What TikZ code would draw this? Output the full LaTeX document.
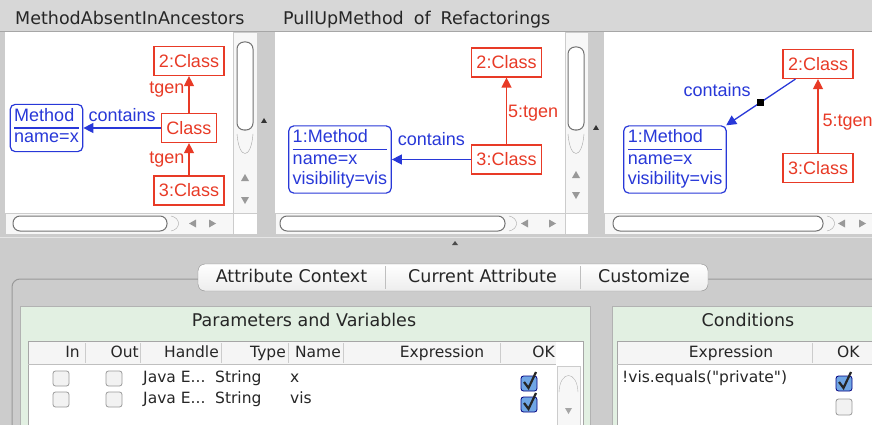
\documentclass[tikz,border=0pt]{standalone}
\usepackage{fontspec}
\setmainfont{DejaVu Sans}
\newfontfamily\umlfont{Liberation Sans}
\usepackage{tikz}
\usetikzlibrary{arrows.meta}
\usepackage{xcolor}
\definecolor{umlred}{RGB}{232,58,38}
\definecolor{umlblue}{RGB}{40,56,216}
\definecolor{wingray}{RGB}{204,204,204}
\definecolor{bargray}{RGB}{215,215,215}
\definecolor{panegreen}{RGB}{226,240,226}
\definecolor{tickblue}{RGB}{112,166,228}
\setlength{\arrayrulewidth}{1.2pt}

\begin{document}
\begin{tikzpicture}[x=1pt,y=-1pt,
  classbox/.style={draw=umlred,line width=1.2pt,text=umlred,font=\umlfont\fontsize{18}{20}\selectfont,inner xsep=5pt,inner ysep=2pt,minimum height=29pt},
  methodbox/.style={draw=umlblue,line width=1.2pt,rounded corners=5pt,text=umlblue,font=\umlfont\fontsize{18}{20}\selectfont,inner xsep=4pt,inner ysep=3pt},
  genarrow/.style={umlred,line width=1.3pt,-{Triangle[length=10pt,width=10pt]}},
  assocarrow/.style={umlblue,line width=1.3pt,-{Triangle[length=10pt,width=10pt]}},
  edgelabel/.style={font=\umlfont\fontsize{18}{20}\selectfont,inner sep=1pt},
  uitext/.style={font=\fontsize{17.5}{20}\selectfont,text=black!85,inner sep=0pt,text height=13pt,text depth=4pt},
  celltext/.style={font=\fontsize{15.5}{18}\selectfont,text=black!85,inner sep=0pt,text height=11.5pt,text depth=3.5pt},
  checkoff/.style={draw=black!40,fill=black!5,rounded corners=2.5pt,line width=0.8pt},
  checkon/.style={draw=blue!50!black,fill=tickblue,rounded corners=2.5pt,line width=0.8pt},
  thumb/.style={draw=black!55,fill=white,rounded corners=7pt,line width=1pt},
  track/.style={fill=black!3,draw=black!20}]
  \useasboundingbox (0,0) rectangle (872,425);
  \fill[wingray] (0,0) rectangle (872,425);
  \fill[bargray] (0,0) rectangle (872,31);
  \draw[black!35] (0,31.5) -- (872,31.5);
  \node[uitext,anchor=west] (title1) at (15,20) {MethodAbsentInAncestors};
  \node[uitext,anchor=west] (title2) at (283,20) {PullUpMethod\hspace{10pt}of\hspace{10pt}Refactorings};

  % the three graph panes
  \fill[white] (5,32) rectangle (257,234);
  \fill[white] (275,32) rectangle (588,234);
  \fill[white] (604,32) rectangle (872,234);
  \draw[track] (233,32) rectangle (257,213);
  \draw[track] (565,32) rectangle (588,213);
  \draw[track] (5,213) rectangle (233,234);
  \draw[track] (275,213) rectangle (565,234);
  \draw[track] (604,213) rectangle (872,234);
  \draw[thumb] (237,42) rectangle (253,130);
  \draw[black!35] (237,134) .. controls (239,160) and (251,160) .. (253,134);
  \draw[thumb] (568,47) rectangle (584,130);
  \draw[black!35] (568,134) .. controls (570,160) and (582,160) .. (584,134);
  \draw[thumb] (13,216) rectangle (167,231);
  \draw[black!35] (171,216) .. controls (181,218) and (181,229) .. (171,231);
  \draw[thumb] (280,216) rectangle (505,231);
  \draw[black!35] (509,216) .. controls (519,218) and (519,229) .. (509,231);
  \draw[thumb] (613,216) rectangle (823,231);
  \draw[black!35] (827,216) .. controls (837,218) and (837,229) .. (827,231);
  \fill[black!40] (245,174) -- (241,181) -- (249,181) -- cycle;
  \fill[black!40] (245,204) -- (241,197) -- (249,197) -- cycle;
  \fill[black!40] (576,171) -- (572,178) -- (580,178) -- cycle;
  \fill[black!40] (576,199) -- (572,192) -- (580,192) -- cycle;
  \fill[black!40] (189,223.5) -- (196,219.5) -- (196,227.5) -- cycle;
  \fill[black!40] (216,223.5) -- (209,219.5) -- (209,227.5) -- cycle;
  \fill[black!40] (521,223.5) -- (528,219.5) -- (528,227.5) -- cycle;
  \fill[black!40] (556,223.5) -- (549,219.5) -- (549,227.5) -- cycle;
  \fill[black!40] (838,223.5) -- (845,219.5) -- (845,227.5) -- cycle;
  \fill[black!40] (866,223.5) -- (859,219.5) -- (859,227.5) -- cycle;
  \fill[black!80] (264,118) -- (261,123) -- (267,123) -- cycle;
  \fill[black!80] (596,125) -- (593,130) -- (599,130) -- cycle;
  \fill[black!70] (455,241) -- (452,245) -- (458,245) -- cycle;
  \draw[white!50!wingray,line width=1pt] (0,237.5) -- (872,237.5);

  \node[classbox] (sup1) at (189,61) {2:Class};
  \node[classbox] (cls1) at (189,128) {Class};
  \node[classbox] (sub1) at (189,190.5) {3:Class};
  \node[methodbox] (meth1) at (46.5,128) {\begin{tabular}{@{}l@{}}Method\\\hline name=x\end{tabular}};
  \draw[genarrow] (cls1) -- node[edgelabel,left,text=umlred,pos=0.63,xshift=-3pt] {tgen} (sup1);
  \draw[genarrow] (sub1) -- node[edgelabel,left,text=umlred,pos=0.5,xshift=-3pt] {tgen} (cls1);
  \draw[assocarrow] (cls1) -- node[edgelabel,above,text=umlblue,yshift=5pt] {contains} (meth1);

  \node[classbox] (sup2) at (506.5,62.5) {2:Class};
  \node[classbox] (sub2) at (506.5,159.5) {3:Class};
  \node[methodbox] (meth2) at (340,159.5) {\begin{tabular}{@{}l@{}}1:Method\\\hline name=x\\visibility=vis\end{tabular}};
  \draw[genarrow] (sub2) -- node[edgelabel,right,text=umlred,pos=0.47] {5:tgen} (sup2);
  \draw[assocarrow] (sub2) -- node[edgelabel,above,text=umlblue,yshift=12pt] {contains} (meth2);

  \node[classbox] (sup3) at (818,64) {2:Class};
  \node[classbox] (sub3) at (818,168) {3:Class};
  \node[methodbox] (meth3) at (675,159.5) {\begin{tabular}{@{}l@{}}1:Method\\\hline name=x\\visibility=vis\end{tabular}};
  \draw[genarrow] (sub3) -- node[edgelabel,right,text=umlred,pos=0.42,xshift=3pt] {5:tgen} (sup3);
  \draw[assocarrow] (sup3) -- node[fill=black,minimum size=7pt,inner sep=0pt] (bend3) {}
    node[edgelabel,text=umlblue,pos=0.45,anchor=east,xshift=-12pt,yshift=10pt] {contains} (meth3);

  % attribute editor
  \draw[black!40,rounded corners=8pt,line width=1pt] (12,440) |- (880,279);
  \shadedraw[top color=white,bottom color=black!7,draw=black!45,rounded corners=7pt] (198,264) rectangle (708,291);
  \draw[black!25] (385,266) -- (385,289) (580,266) -- (580,289);
  \node[uitext] (tabctx) at (291.5,277.5) {Attribute Context};
  \node[uitext] (tabcur) at (482.5,277.5) {Current Attribute};
  \node[uitext] (tabcus) at (644,277.5) {Customize};

  \fill[panegreen] (20,306) rectangle (590,440);
  \draw[black!30] (20,440) |- (590,306) -- (590,440);
  \fill[panegreen] (612,306) rectangle (890,440);
  \draw[black!30] (612,440) |- (890,306);
  \node[uitext] (partitle) at (304,322) {Parameters and Variables};
  \node[uitext] (contitle) at (748,322) {Conditions};

  \fill[white] (28,341) rectangle (583,440);
  \fill[black!4] (28,341) rectangle (556,364);
  \draw[black!35] (28,440) |- (583,341) -- (583,440);
  \draw[black!25] (28,364) -- (556,364);
  \draw[black!20] (85,343) -- (85,363) (140,343) -- (140,363) (221,343) -- (221,363)
    (288,343) -- (288,363) (343,343) -- (343,363) (500,343) -- (500,363);
  \node[celltext,anchor=east] (hin) at (80,353) {In};
  \node[celltext,anchor=east] (hout) at (139,353) {Out};
  \node[celltext,anchor=east] (hhandle) at (219,353) {Handle};
  \node[celltext,anchor=east] (htype) at (286,353) {Type};
  \node[celltext,anchor=east] (hname) at (341,353) {Name};
  \node[celltext] (hexpr) at (442,353) {Expression};
  \node[celltext,anchor=east] (hok) at (555,353) {OK};
  \draw[track] (557,366) rectangle (580,425);
  \draw[black!30] (559,392) .. controls (560,370) and (577,370) .. (578,392);
  \fill[black!35] (568.5,414) -- (565,408) -- (572,408) -- cycle;

  \draw[checkoff] (53,371) rectangle (69,386);
  \draw[checkoff] (106,371) rectangle (122,386);
  \draw[checkoff] (53,392) rectangle (69,407);
  \draw[checkoff] (106,392) rectangle (122,407);
  \node[celltext,anchor=west] (handle1) at (143,378) {Java E...};
  \node[celltext,anchor=west] (type1) at (215,378) {String};
  \node[celltext,anchor=west] (name1) at (290,378) {x};
  \node[celltext,anchor=west] (handle2) at (143,399) {Java E...};
  \node[celltext,anchor=west] (type2) at (215,399) {String};
  \node[celltext,anchor=west] (name2) at (290,399) {vis};
  \draw[checkon] (521,376) rectangle (537,391);
  \draw[line width=2.2pt,black!85] (524,382) -- (528.5,388) -- (536,372);
  \draw[checkon] (521,397) rectangle (537,412);
  \draw[line width=2.2pt,black!85] (524,403) -- (528.5,409) -- (536,393);

  \fill[white] (617,341) rectangle (880,440);
  \fill[black!4] (617,341) rectangle (880,364);
  \draw[black!35] (617,440) |- (880,341);
  \draw[black!25] (617,364) -- (880,364);
  \draw[black!20] (812,343) -- (812,363);
  \node[celltext] (cexpr) at (731,353) {Expression};
  \node[celltext,anchor=west] (cok) at (837,353) {OK};
  \node[celltext,anchor=west] (cond1) at (622,378) {!vis.equals(\textquotedbl private\textquotedbl)};
  \draw[checkon] (836,376) rectangle (852,391);
  \draw[line width=2.2pt,black!85] (839,382) -- (843.5,388) -- (851,372);
  \draw[checkoff] (836,399) rectangle (852,415);
\end{tikzpicture}
\end{document}
